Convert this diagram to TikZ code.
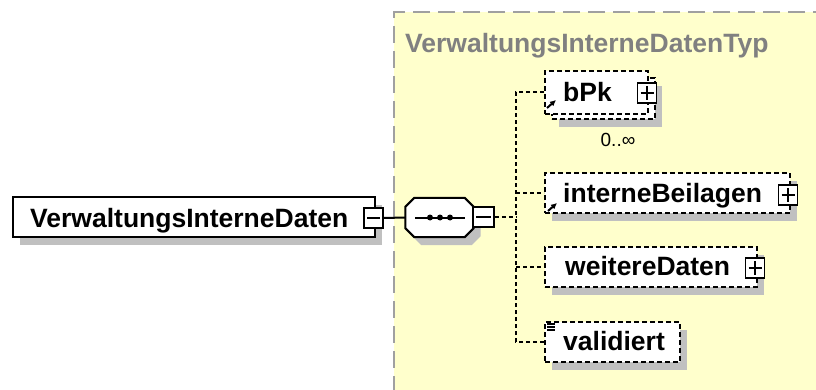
\documentclass[tikz,border=0pt]{standalone}
\usepackage{fontspec}
\setmainfont{Liberation Sans}
\usetikzlibrary{calc,positioning,arrows.meta,shadows}
\definecolor{typebg}{RGB}{255,255,204}
\definecolor{typeborder}{RGB}{160,160,160}
\definecolor{typetitle}{RGB}{128,128,128}
\definecolor{shadowgray}{RGB}{192,192,192}

\begin{document}
\begin{tikzpicture}[x=1pt, y=-1pt,
    box/.style={draw, line width=2pt, fill=white, inner sep=0pt},
    dropsh/.style={drop shadow={shadow xshift=7pt, shadow yshift=-8pt, fill=shadowgray, opacity=1}},
    optbox/.style={box, dash pattern=on 5pt off 3pt},
    btn/.style={draw, line width=1.5pt, fill=white, minimum width=19pt, minimum height=20pt, inner sep=0pt},
    btnminus/.style={btn, path picture={\draw[line width=1.5pt] ([xshift=3pt]path picture bounding box.west) -- ([xshift=-3pt]path picture bounding box.east);}},
    btnplus/.style={btn, path picture={\draw[line width=1.5pt] ([xshift=3pt]path picture bounding box.west) -- ([xshift=-3pt]path picture bounding box.east) ([yshift=-3pt]path picture bounding box.north) -- ([yshift=3pt]path picture bounding box.south);}},
    ename/.style={anchor=base west, inner sep=0pt, font=\fontsize{26.5}{30}\selectfont\bfseries},
    conn/.style={line width=2pt, dash pattern=on 4pt off 3pt},
    link/.style={line width=2pt},
    refarrow/.style={line width=2pt, -{Latex[length=6pt,width=6pt]}}]
    \clip (0,0) rectangle (816,390);
    % complex type area
    \fill[typebg] (394,12) rectangle (830,400);
    \draw[typeborder, line width=2pt, dash pattern=on 17pt off 8pt] (830,12) -- (394,12) -- (394,400);
    \node[ename, text=typetitle] (typename) at (405,53) {VerwaltungsInterneDatenTyp};
    % root element
    \node[box, dropsh, minimum width=362pt, minimum height=40pt] (root) at (194,217) {};
    \node[ename] (roottext) at (30,227) {VerwaltungsInterneDaten};
    \node[btnminus] (rootminus) at (373.5,218) {};
    % sequence
    \node[minimum width=68pt, minimum height=39pt, inner sep=0pt] (seq) at (439.5,217.5) {};
    \filldraw[link, fill=white, dropsh]
        ($(seq.north west)+(9,0)$) -- ($(seq.north east)+(-9,0)$) -- ($(seq.north east)+(0,9)$)
        -- ($(seq.south east)+(0,-9)$) -- ($(seq.south east)+(-9,0)$) -- ($(seq.south west)+(9,0)$)
        -- ($(seq.south west)+(0,-9)$) -- ($(seq.north west)+(0,9)$) -- cycle;
    \draw[link] ($(seq.center)+(-24.5,0)$) -- ($(seq.center)+(25.5,0)$);
    \foreach \dx in {-9.5,0.5,10.5}
        \fill ($(seq.center)+(\dx,0)$) circle (3pt);
    \node[btnminus, minimum width=21pt] (seqminus) at (483.5,217) {};
    \coordinate (fork) at (516,217);
    % children
    \node[optbox, dropsh, minimum width=103pt, minimum height=41pt] (bpkback) at (603.5,98.5) {};
    \node[optbox, minimum width=103pt, minimum height=43pt] (bpk) at (596.5,92.5) {};
    \node[ename] (bpktext) at (563,102) {bPk};
    \node[btnplus] (bpkplus) at (647,93) {};
    \draw[refarrow] ($(bpk.south west)+(3,-7)$) -- ++(9,-8);
    \node[anchor=base, inner sep=0pt, font=\fontsize{19}{22}\selectfont] (bpkocc) at (618,147) {0..∞};

    \node[optbox, dropsh, minimum width=245pt, minimum height=40pt] (ib) at (667.5,193) {};
    \node[ename] (ibtext) at (563,202) {interneBeilagen};
    \node[btnplus] (ibplus) at (788,195) {};
    \draw[refarrow] ($(ib.south west)+(4,-3)$) -- ++(9,-8);

    \node[optbox, dropsh, minimum width=212pt, minimum height=40pt] (wd) at (651,267) {};
    \node[ename] (wdtext) at (565,275) {weitereDaten};
    \node[btnplus] (wdplus) at (755,268) {};

    \node[optbox, dropsh, minimum width=135pt, minimum height=40pt] (val) at (612.5,342) {};
    \node[ename] (valtext) at (563,350) {validiert};
    \foreach \dy in {3,6,9}
        \draw[line width=1.3pt] ($(val.north west)+(3,\dy)$) -- ++(8,0);
    % connectors
    \draw[link] (rootminus.east) -- (seq.west);
    \draw[conn] (seqminus.east) -- (fork);
    \draw[conn] (bpk.west) -| (fork);
    \draw[conn] (val.west) -| (fork);
    \draw[conn] (fork |- ib.west) -- (ib.west);
    \draw[conn] (fork |- wd.west) -- (wd.west);
\end{tikzpicture}
\end{document}
